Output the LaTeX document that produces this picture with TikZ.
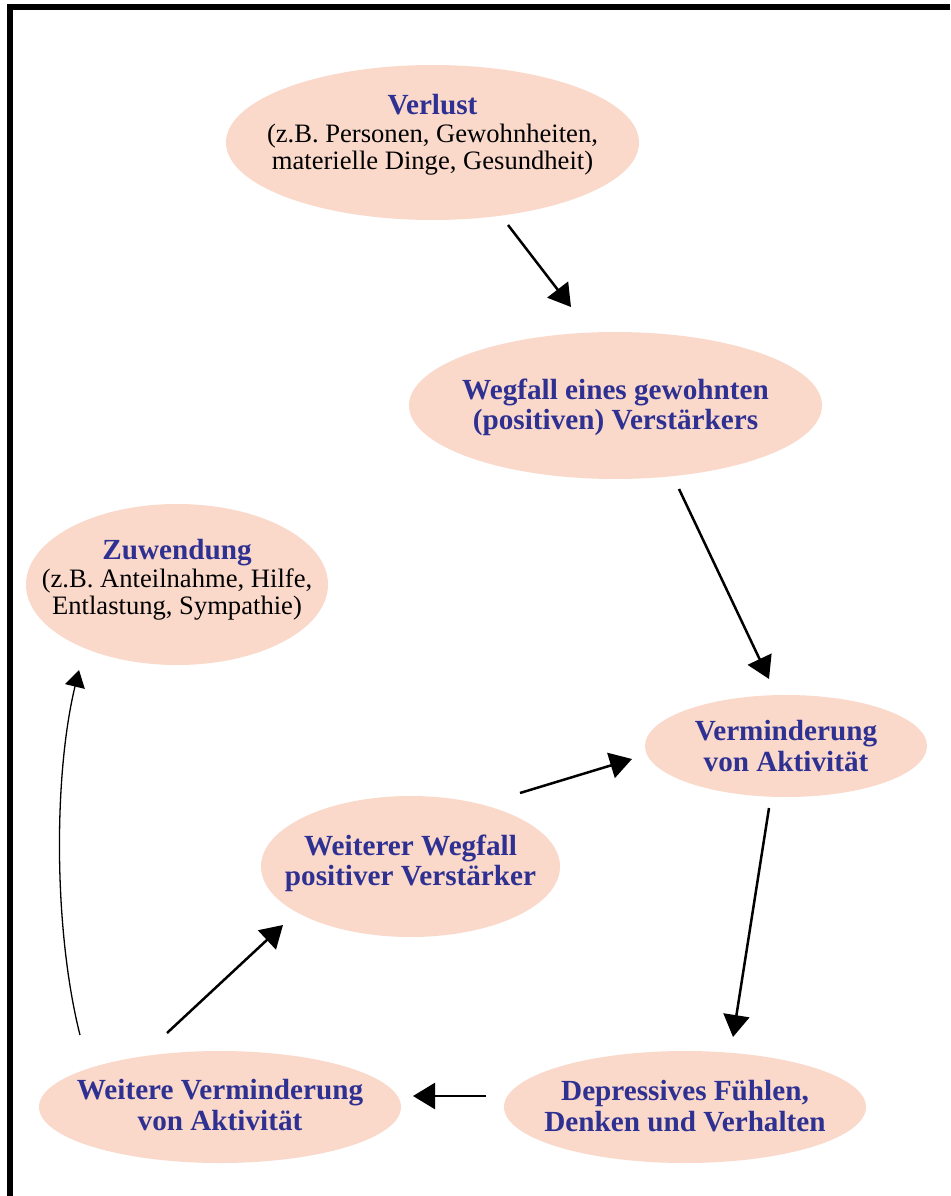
\documentclass[tikz,border=0pt]{standalone}
\usepackage{fontspec}
\setmainfont{Liberation Serif}
\usetikzlibrary{shapes.geometric,arrows.meta}
\definecolor{fillc}{RGB}{250,217,203}
\definecolor{titlec}{RGB}{46,49,146}
\newcommand{\ttlfont}{\fontsize{29.2}{30}\selectfont\bfseries}
\begin{document}
\begin{tikzpicture}[x=1pt,y=-1pt,
  bub/.style={ellipse, fill=fillc, inner sep=0pt},
  lbl/.style={align=center, inner sep=0pt, font=\fontsize{26.6}{27}\selectfont},
  blbl/.style={lbl, text=titlec, font=\fontsize{29.2}{30.5}\selectfont\bfseries},
  arr/.style={line width=2.5pt, -{Triangle[length=22pt,width=26pt]}},
  thinarr/.style={line width=1.3pt, -{Triangle[length=17pt,width=20pt]}}
]
\useasboundingbox (0,0) rectangle (950,1196);
\fill[white] (0,0) rectangle (950,1196);
\draw[line width=6pt, line join=miter] (9.5,1196) -- (9.5,7.3) -- (950,7.3);

\node[bub, minimum width=413pt, minimum height=155pt,
  label={[lbl, yshift=8pt]center:{{\color{titlec}\ttlfont Verlust}\\[1pt](z.B. Personen, Gewohnheiten,\\materielle Dinge, Gesundheit)}}]
  (verlust) at (432.5,142.5) {};
\node[bub, minimum width=413pt, minimum height=147pt,
  label={[blbl, yshift=-2pt]center:{Wegfall eines gewohnten\\(positiven) Verstärkers}}]
  (wegfall) at (615.5,405.5) {};
\node[bub, minimum width=302pt, minimum height=161pt,
  label={[lbl, yshift=5pt]center:{{\color{titlec}\ttlfont Zuwendung}\\[1pt](z.B. Anteilnahme, Hilfe,\\Entlastung, Sympathie)}}]
  (zuw) at (177,584.5) {};
\node[bub, minimum width=282pt, minimum height=102pt,
  label={[blbl]center:{Verminderung\\von Aktivität}}]
  (verm) at (786,746) {};
\node[bub, minimum width=299pt, minimum height=141pt,
  label={[blbl, yshift=3pt]center:{Weiterer Wegfall\\positiver Verstärker}}]
  (weiterer) at (410.5,866.5) {};
\node[bub, minimum width=362pt, minimum height=112pt,
  label={[blbl, yshift=2pt]center:{Weitere Verminderung\\von Aktivität}}]
  (weitere) at (220,1107) {};
\node[bub, minimum width=362pt, minimum height=112pt,
  label={[blbl, yshift=1pt]center:{Depressives Fühlen,\\Denken und Verhalten}}]
  (depr) at (685,1107) {};

\draw[arr] ([shift={(75.5,82.5)}]verlust.center) -- ([shift={(-44.5,-98.5)}]wegfall.center);
\draw[arr] ([shift={(63.5,83.5)}]wegfall.center) -- ([shift={(-17,-67)}]verm.center);
\draw[arr] ([shift={(109.5,-73.5)}]weiterer.center) -- ([shift={(-154,13)}]verm.center);
\draw[arr] ([shift={(-17,62)}]verm.center) -- ([shift={(48,-70)}]depr.center);
\draw[arr] ([shift={(-199,-11)}]depr.center) -- ([shift={(193,-11)}]weitere.center);
\draw[arr] ([shift={(-53,-74)}]weitere.center) -- ([shift={(-127.5,58.5)}]weiterer.center);
\draw[thinarr] ([shift={(-140,-72)}]weitere.center) .. controls (53.5,930) and (53.5,775) .. ([shift={(-98,85.5)}]zuw.center);
\end{tikzpicture}
\end{document}
